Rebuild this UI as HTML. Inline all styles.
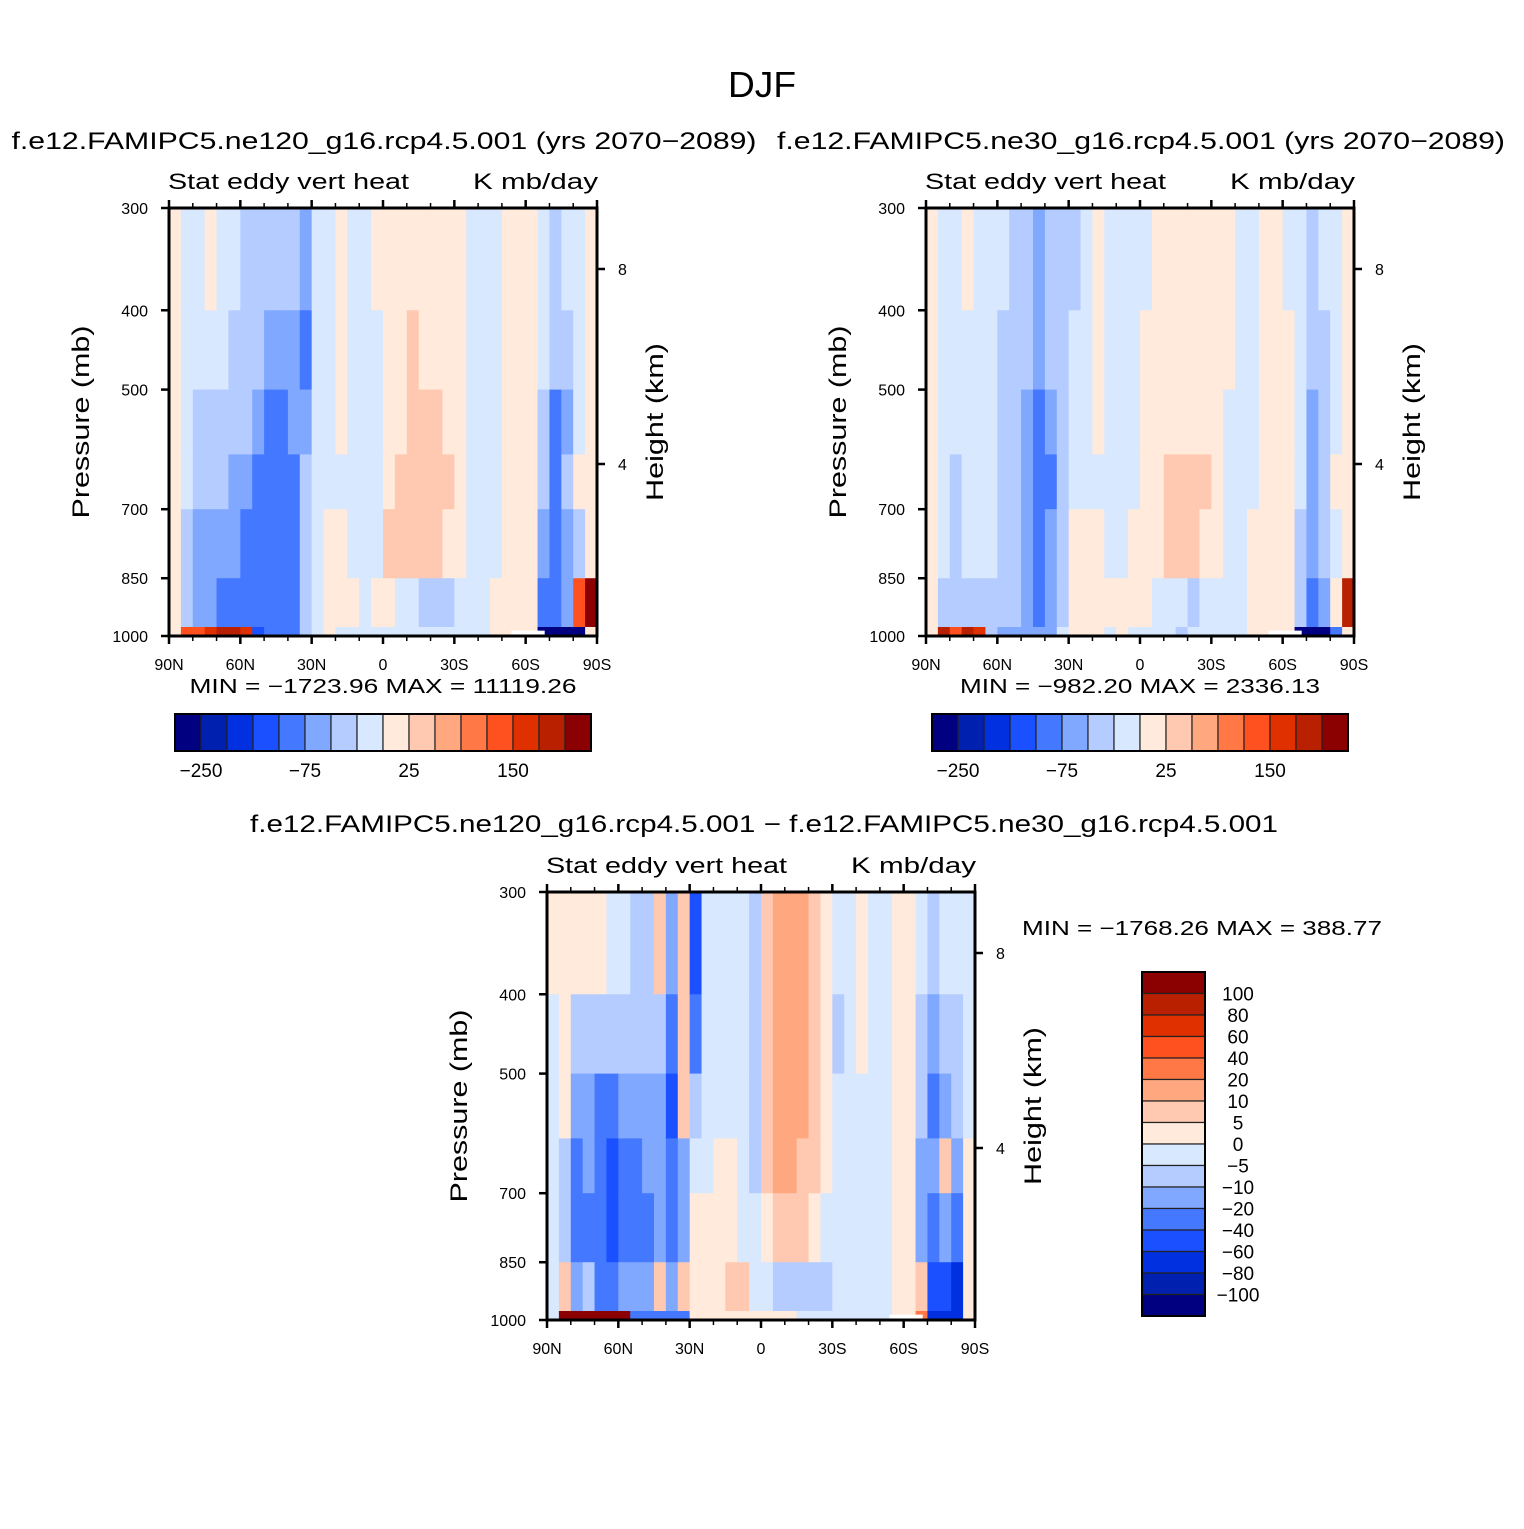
<!DOCTYPE html>
<html><head><meta charset="utf-8">
<style>
html,body{margin:0;padding:0;background:#fff;}
svg text{font-family:"Liberation Sans","DejaVu Sans",sans-serif;fill:#000;}
</style></head>
<body>
<svg id="fig" width="1524" height="1524" viewBox="0 0 1524 1524" xmlns="http://www.w3.org/2000/svg">
<rect width="1524" height="1524" fill="#fff"/>
<text x="762" y="97" font-size="36" text-anchor="middle" textLength="68" lengthAdjust="spacingAndGlyphs">DJF</text>
<g id="layer"></g>
</svg>
<script>
// ---- data ----
const colors=["#000080","#0020b0","#0030e0","#1a50ff","#4478ff","#80a8ff","#b4ccff","#d8e8ff","#ffeadb","#ffc8b0","#ffa880","#ff7845","#ff5020","#e03000","#b82000","#8b0000"];
const levelsAbs=[-250,-200,-150,-100,-75,-50,-25,0,25,50,75,100,150,200,250];
const levelsDiff=[-100,-80,-60,-40,-20,-10,-5,0,5,10,20,40,60,80,100];
const pressureBounds=[300,400,500,600,700,850,975,1000];
const latTicks=["90N","60N","30N","0","30S","60S","90S"];
const pTicks=[300,400,500,700,850,1000];
const absBarLabels=["−250","−75","25","150"];
const diffBarLabels=["100","80","60","40","20","10","5","0","−5","−10","−20","−40","−60","−80","−100"];
// columns: 36 latitude bands (90N -> 90S), each with 7 pressure rows (top -> bottom)
const fieldNe120=[
[10,10,10,10,10,10,10],[-10,-10,-10,-10,-30,-30,100],[-10,-10,-30,-40,-60,-60,120],[10,-10,-30,-40,-60,-60,160],
[-10,-10,-30,-40,-60,-80,200],[-10,-30,-40,-60,-60,-80,200],[-30,-30,-40,-60,-80,-80,150],[-40,-40,-60,-80,-80,-90,-120],
[-40,-60,-80,-100,-100,-100,-100],[-40,-60,-80,-100,-100,-100,-100],[-40,-60,-60,-80,-80,-80,-80],[-60,-80,-60,-40,-30,-30,-30],
[-10,-10,-10,-10,-10,-10,-10],[-10,-10,-10,-10,10,10,10],[10,10,10,-10,10,10,-10],[-10,-10,-10,-10,-10,10,-10],
[-10,-10,-10,-10,-10,-10,-10],[10,-10,-10,-10,-10,10,-10],[10,10,10,10,30,10,-10],[10,10,10,30,30,-10,-10],
[10,30,30,30,30,-10,-10],[10,10,30,30,30,-30,-10],[10,10,30,30,30,-30,-10],[10,10,10,30,10,-30,-10],
[10,10,10,10,10,-10,-10],[-10,-10,-10,-10,-10,-10,-10],[-10,-10,-10,-10,-10,-10,-10],[-10,-10,-10,-10,-10,10,10],
[10,10,10,10,10,10,10],[10,10,10,10,10,10,10],[10,10,10,10,10,10,10],[-10,-10,-30,-30,-60,-80,-300],
[-30,-40,-100,-100,-80,-100,-300],[-10,-30,-60,-40,-60,-60,-300],[-10,-10,-10,10,-30,100,-300],[10,10,10,10,10,300,10]];
const fieldNe30=[
[10,10,10,10,10,10,10],[-10,-10,-10,-10,-10,-30,200],[-10,-10,-10,-30,-30,-30,100],[10,-10,-10,-10,-10,-30,200],
[-10,-10,-10,-10,-10,-30,150],[-10,-10,-10,-10,-10,-30,-30],[-10,-30,-30,-30,-30,-30,-60],[-30,-30,-40,-40,-40,-40,-60],
[-40,-40,-60,-60,-60,-60,-60],[-60,-60,-80,-80,-80,-80,-60],[-40,-40,-60,-80,-60,-60,-60],[-30,-40,-30,-30,-30,-30,-10],
[-30,-10,-10,-10,10,10,10],[-10,-10,-10,-10,10,10,10],[10,10,10,-10,10,10,10],[-10,-10,-10,-10,-10,10,-10],
[-10,-10,-10,-10,-10,10,10],[-10,-10,-10,-10,10,10,-10],[-10,10,10,10,10,10,-10],[10,10,10,10,10,-10,-10],
[10,10,10,30,30,-10,-10],[10,10,10,30,30,-10,-30],[10,10,10,30,30,-30,-10],[10,10,10,30,10,-10,-10],
[10,10,10,10,10,-10,-10],[10,10,-10,-10,-10,-10,-10],[-10,-10,-10,-10,-10,-10,-10],[-10,-10,-10,-10,10,10,10],
[10,10,10,10,10,10,10],[10,10,10,10,10,10,10],[-10,10,10,10,10,10,10],[-10,-10,-10,-10,-30,-40,-300],
[-30,-40,-60,-60,-60,-80,-300],[-10,-30,-40,-40,-40,-60,-300],[-10,-10,-10,10,-10,10,-100],[10,10,10,10,10,200,10]];
const fieldDiff=[
[3,-3,-3,-3,-3,-3,-3],[3,3,3,-7,-8,8,100],[3,-7,-15,-30,-30,-15,100],[3,-7,-15,-15,-30,-8,100],
[3,-7,-30,-30,-30,-30,100],[-3,-8,-30,-50,-50,-30,100],[-3,-8,-15,-30,-30,-15,100],[-7,-7,-15,-30,-30,-15,-30],
[-7,-7,-15,-15,-30,-15,-30],[8,-8,-15,-15,-15,8,-30],[-15,-30,-50,-30,-30,-15,-30],[8,8,8,-15,-15,8,-30],
[-50,-30,-8,-3,3,3,3],[-3,-3,-3,-3,3,3,3],[-3,-3,-3,3,3,3,3],[-3,-3,-3,3,3,8,3],
[-3,-3,-3,-3,-3,8,3],[-7,-7,-7,-7,-3,-3,3],[8,8,8,8,3,-3,3],[15,15,15,15,8,-7,3],
[15,15,15,15,8,-7,3],[15,15,15,8,8,-7,-3],[8,8,8,8,3,-7,-3],[3,3,3,3,-3,-7,-3],
[-3,-7,-3,-3,-3,-3,-3],[-3,-3,-3,-3,-3,-3,-3],[3,3,-3,-3,-3,-3,-3],[-3,-3,-3,-3,-3,-3,-3],
[-3,-3,-3,-3,-3,-3,-3],[3,3,3,3,3,3,3],[3,3,3,3,3,3,3],[-3,-7,-8,-15,-15,8,30],
[-8,-15,-30,-15,-30,-60,-80],[-3,-8,-15,8,-15,-50,-80],[-3,-7,-8,-15,-30,-80,-80],[-3,-3,-3,3,3,3,3]];

const NS="http://www.w3.org/2000/svg";
const layer=document.getElementById('layer');
function mk(tag,attrs,parent){const e=document.createElementNS(NS,tag);for(const k in attrs)e.setAttribute(k,attrs[k]);(parent||layer).appendChild(e);return e;}
function txt(s,x,y,size,anchor,parent,len){const t=mk('text',{x:x,y:y,'font-size':size,'text-anchor':anchor||'middle'},parent);t.textContent=s;
  if(len){t.setAttribute('textLength',len);t.setAttribute('lengthAdjust','spacingAndGlyphs');}return t;}
function colorIdx(v,levels){let i=0;while(i<levels.length&&v>=levels[i])i++;return i;}

function panel(name,x0,y0,field,levels){
  const W=428,H=428;
  const g=mk('g',{});
  
  
  const lp0=Math.log(300),lp1=Math.log(1000);
  const yOf=p=>y0+(Math.log(p)-lp0)/(lp1-lp0)*H;
  const xOf=lat=>x0+(90-lat)/180*W;
  const ncol=field.length;
  field.forEach((col,ci)=>{
    const latA=90-ci*180/ncol,latB=90-(ci+1)*180/ncol;
    col.forEach((v,ri)=>{
      const r=mk('rect',{x:xOf(latA),y:yOf(pressureBounds[ri]),width:xOf(latB)-xOf(latA)+0.6,height:yOf(pressureBounds[ri+1])-yOf(pressureBounds[ri])+0.6,fill:colors[colorIdx(v,levels)]},g);
      
      
    });
  });
  mk('rect',{x:xOf(-54),y:yOf(985),width:xOf(-68)-xOf(-54),height:yOf(1000)-yOf(985),fill:'#fff'},g);
  const f=mk('rect',{x:x0,y:y0,width:W,height:H,fill:'none',stroke:'#000','stroke-width':3},g);
  
  
  for(let lat=90;lat>=-90;lat-=10){
    const x=xOf(lat),major=(lat%30===0),L=major?8:5;
    mk('line',{x1:x,y1:y0,x2:x,y2:y0-L,stroke:'#000','stroke-width':major?2.5:1.5},g);
    mk('line',{x1:x,y1:y0+H,x2:x,y2:y0+H+L,stroke:'#000','stroke-width':major?2.5:1.5},g);
  }
  latTicks.forEach((s,i)=>{const t=txt(s,xOf(90-30*i),y0+H+34,16,'middle',g);
    });
  pTicks.forEach(p=>{const y=yOf(p);
    mk('line',{x1:x0,y1:y,x2:x0-8,y2:y,stroke:'#000','stroke-width':2.5},g);
    const t=txt(String(p),x0-21,y+6,16,'end',g);
    });
  [[8,61],[4,256]].forEach(([km,dy])=>{
    mk('line',{x1:x0+W,y1:y0+dy,x2:x0+W+8,y2:y0+dy,stroke:'#000','stroke-width':2.5},g);
    const t=txt(String(km),x0+W+21,y0+dy+6,16,'start',g);
    });
  const a=txt('Pressure (mb)',0,0,24,'middle',g,193);
  a.setAttribute('transform',`translate(${x0-80},${y0+214}) rotate(-90)`);
  
  const b=txt('Height (km)',0,0,24,'middle',g,158);
  b.setAttribute('transform',`translate(${x0+W+66},${y0+214}) rotate(-90)`);
  
  const s1=txt('Stat eddy vert heat',x0-1,y0-19,22,'start',g,241);
  
  const s2=txt('K mb/day',x0+W+1,y0-19,22,'end',g,125);
  
}

function hbar(name,x0,y0){
  const g=mk('g',{});
  
  
  const w=416/16;
  colors.forEach((c,i)=>{const r=mk('rect',{x:x0+i*w,y:y0,width:w,height:37,fill:c,stroke:'#222','stroke-width':1.2},g);
    });
  mk('rect',{x:x0,y:y0,width:416,height:37,fill:'none',stroke:'#000','stroke-width':2},g);
  absBarLabels.forEach((s,i)=>{const t=txt(s,x0+w*(1+4*i),y0+63,19,'middle',g);
    });
}

panel('panel-ne120',169,208,fieldNe120,levelsAbs);
panel('panel-ne30',926,208,fieldNe30,levelsAbs);
panel('panel-difference',547,892,fieldDiff,levelsDiff);

const t1=txt('f.e12.FAMIPC5.ne120_g16.rcp4.5.001 (yrs 2070−2089)',384,149,24,'middle',null,745);

const t2=txt('f.e12.FAMIPC5.ne30_g16.rcp4.5.001 (yrs 2070−2089)',1141,149,24,'middle',null,728);

const t3=txt('f.e12.FAMIPC5.ne120_g16.rcp4.5.001 − f.e12.FAMIPC5.ne30_g16.rcp4.5.001',764,832,24,'middle',null,1028);

const m1=txt('MIN = −1723.96   MAX = 11119.26',383,693,20,'middle',null,387);

const m2=txt('MIN = −982.20   MAX = 2336.13',1140,693,20,'middle',null,360);

const m3=txt('MIN = −1768.26   MAX = 388.77',1022,935,20,'start',null,360);


hbar('colorbar-ne120',175,714);
hbar('colorbar-ne30',932,714);

(function(){
  const g=mk('g',{});
  
  
  const x0=1142,y0=972,h=344/16;
  colors.slice().reverse().forEach((c,i)=>{const r=mk('rect',{x:x0,y:y0+i*h,width:63,height:h,fill:c,stroke:'#222','stroke-width':1.2},g);
    });
  mk('rect',{x:x0,y:y0,width:63,height:344,fill:'none',stroke:'#000','stroke-width':2},g);
  diffBarLabels.forEach((s,i)=>{const t=txt(s,1238,y0+h*(i+1)+7,19,'middle',g);
    });
})();
</script>
</body></html>
